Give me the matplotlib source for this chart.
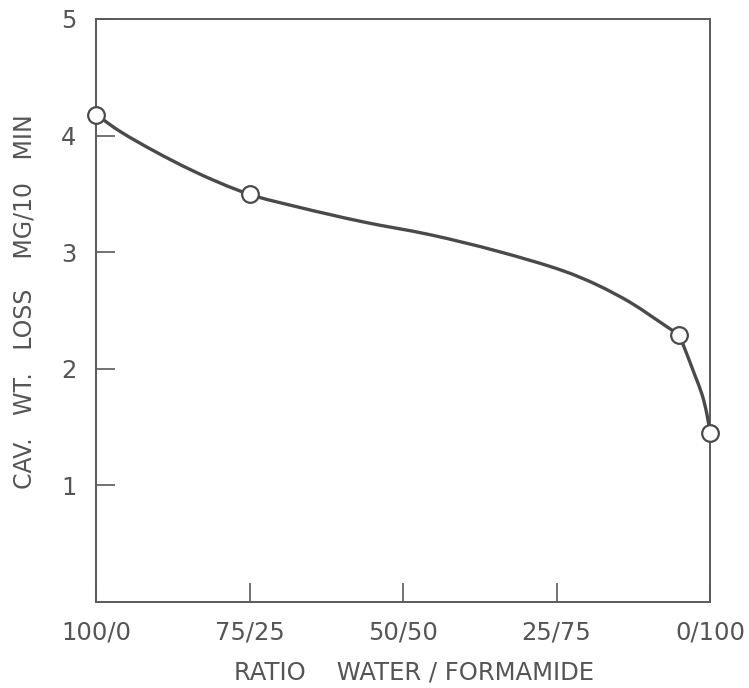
import matplotlib
matplotlib.use("Agg")
import matplotlib.pyplot as plt
from matplotlib.path import Path
from matplotlib.patches import PathPatch
import numpy as np

# measured points (percent formamide, wt loss mg/10 min)
point_x = [0, 25, 95, 100]
point_y = [4.18, 3.50, 2.29, 1.45]

# hand-drawn fitted curve (two strokes meeting at the 95% point)
curve_upper_x = [0, 4.4, 15.3, 24.8, 32.7, 43.5, 54.4, 65.3, 76.1, 81.6, 87.0, 90.2, 93.0, 95.0]
curve_upper_y = [4.18, 4.02, 3.71, 3.50, 3.39, 3.26, 3.15, 3.01, 2.84, 2.72, 2.57, 2.46, 2.36, 2.29]
curve_lower_x = [95.0, 96.2, 97.5, 98.7, 99.5, 100]
curve_lower_y = [2.29, 2.13, 1.95, 1.78, 1.61, 1.45]

xtick_pos = [0, 25, 50, 75, 100]
xtick_labels = ["100/0", "75/25", "50/50", "25/75", "0/100"]
ytick_pos = [1, 2, 3, 4, 5]
ytick_labels = ["1", "2", "3", "4", "5"]

ink = "#4a4a4a"
txt = "#555555"

fig = plt.figure(figsize=(7.49, 6.88), dpi=100)
ax = fig.add_axes([96/749, 1 - 602/688, (710-96)/749, (602-19)/688])
ax.set_xlim(0, 100)
ax.set_ylim(0, 5)

sx, sy = 6.14, 116.6  # approx pixels per data unit, for isotropic knot spacing


def smooth_path(xs, ys):
    # centripetal Catmull-Rom through the read points, as cubic Bezier segments
    P = np.column_stack([np.array(xs) * sx, np.array(ys) * sy])
    P = np.vstack([2 * P[0] - P[1], P, 2 * P[-1] - P[-2]])
    verts = [(P[1][0] / sx, P[1][1] / sy)]
    codes = [Path.MOVETO]
    for i in range(1, len(P) - 2):
        p0, p1, p2, p3 = P[i - 1], P[i], P[i + 1], P[i + 2]
        t1 = np.linalg.norm(p1 - p0) ** 0.5
        t2 = t1 + np.linalg.norm(p2 - p1) ** 0.5
        t3 = t2 + np.linalg.norm(p3 - p2) ** 0.5
        m1 = (t2 - t1) * ((p1 - p0) / t1 - (p2 - p0) / t2 + (p2 - p1) / (t2 - t1))
        m2 = (t2 - t1) * ((p2 - p1) / (t2 - t1) - (p3 - p1) / (t3 - t1) + (p3 - p2) / (t3 - t2))
        for q in (p1 + m1 / 3.0, p2 - m2 / 3.0, p2):
            verts.append((q[0] / sx, q[1] / sy))
        codes += [Path.CURVE4] * 3
    return Path(verts, codes)


for xs, ys in ((curve_upper_x, curve_upper_y), (curve_lower_x, curve_lower_y)):
    ax.add_patch(PathPatch(smooth_path(xs, ys), facecolor="none", edgecolor=ink,
                           lw=2.4, transform=ax.transData, zorder=3, clip_on=False,
                           capstyle="round"))

ax.plot(point_x, point_y, linestyle="none", marker="o", markersize=12,
        markerfacecolor="white", markeredgecolor=ink, markeredgewidth=1.6,
        zorder=5, clip_on=False)

for s in ax.spines.values():
    s.set_color("#5a5a5a")
    s.set_linewidth(1.4)

ax.set_xticks(xtick_pos)
ax.set_xticklabels(xtick_labels)
ax.set_yticks(ytick_pos)
ax.set_yticklabels(ytick_labels)
ax.tick_params(axis="both", direction="in", length=14, width=1.2, color="#5a5a5a",
               labelsize=17.5, labelcolor=txt)
ax.tick_params(axis="x", pad=13)
ax.tick_params(axis="y", pad=14)

ax.set_xlabel("RATIO    WATER / FORMAMIDE", fontsize=17.5, color=txt)
ax.xaxis.set_label_coords((414 - 96) / 614, -(673 - 602) / 583, transform=ax.transAxes)
ax.xaxis.label.set_va("center")
ax.set_ylabel("CAV.   WT.   LOSS    MG/10   MIN", fontsize=17, color=txt)
ax.yaxis.set_label_coords(-(96 - 25) / 614, (601 - 301) / 583, transform=ax.transAxes)
ax.yaxis.label.set_va("center")

fig.savefig("out.png", dpi=100)
